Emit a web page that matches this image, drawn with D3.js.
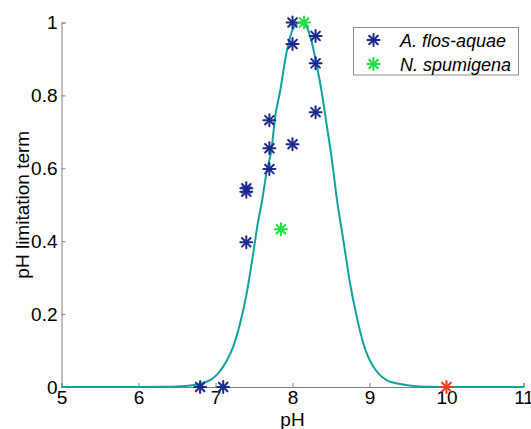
<!DOCTYPE html>
<html>
<head>
<meta charset="utf-8">
<script src="https://cdn.jsdelivr.net/npm/d3@7"></script>
<style>
  html, body { margin: 0; padding: 0; background: #fff; }
  svg { display: block; font-family: "Liberation Sans", Arial, sans-serif; }
</style>
</head>
<body>
<svg id="chart" width="531" height="429"></svg>
<script>
// ---- data ----
const xTicks = [5, 6, 7, 8, 9, 10, 11];
const yTicks = [0, 0.2, 0.4, 0.6, 0.8, 1];
const yTickLabels = ["0", "0.2", "0.4", "0.6", "0.8", "1"];

// model curve
const curvePH  = [5.0, 6.0, 6.3, 6.5, 6.67, 6.8, 6.93, 7.02, 7.10, 7.17, 7.23, 7.32, 7.405, 7.49, 7.556, 7.60, 7.665, 7.73, 7.773, 7.838, 7.925, 8.01, 8.097, 8.184, 8.249, 8.314, 8.379, 8.444, 8.509, 8.574, 8.66, 8.747, 8.834, 8.919, 8.98, 9.049, 9.13, 9.223, 9.396, 9.6, 9.8, 10.0, 11.0];
const curveVal = [0.0, 0.0, 0.0005, 0.0015, 0.004, 0.009, 0.019, 0.034, 0.056, 0.082, 0.111, 0.175, 0.257, 0.367, 0.458, 0.505, 0.591, 0.656, 0.738, 0.81, 0.92, 0.984, 1.0, 0.988, 0.947, 0.883, 0.81, 0.719, 0.628, 0.519, 0.403, 0.285, 0.193, 0.12, 0.084, 0.056, 0.034, 0.019, 0.008, 0.002, 0.0005, 0.0, 0.0];

// A. flos-aquae observations
const afPH  = [6.8, 7.1, 7.4, 7.4, 7.4, 7.7, 7.7, 7.7, 8.0, 8.0, 8.0, 8.3, 8.3, 8.3];
const afVal = [0.0, 0.0, 0.397, 0.536, 0.545, 0.598, 0.655, 0.732, 0.666, 0.941, 1.0, 0.754, 0.888, 0.963];

// N. spumigena observations
const nsPH  = [7.85, 8.15];
const nsVal = [0.433, 1.0];

// extra point (not in legend)
const otherPH  = [10.0];
const otherVal = [0.0];

const legendLabels = ["A. flos-aquae", "N. spumigena"];

// ---- drawing ----
const svg = d3.select("#chart");
const x = d3.scaleLinear().domain([5, 11]).range([61.5, 523.5]);
const y = d3.scaleLinear().domain([0, 1]).range([387, 22.5]);

const axisColor = "#808080";
const blue = "#1b2a8c";
const green = "#1fe040";
const red = "#e8401a";
const teal = "#0fa0a0";
const fs = "19px";

// axes
const xAxis = svg.append("g").attr("transform", "translate(0,387)")
  .call(d3.axisBottom(x).tickValues(xTicks).tickSize(-4).tickPadding(3).tickFormat(d3.format("d")));
const yAxis = svg.append("g").attr("transform", "translate(61.5,0)")
  .call(d3.axisLeft(y).tickValues(yTicks).tickSize(-4).tickPadding(4).tickFormat((d, i) => yTickLabels[i]));

[xAxis, yAxis].forEach(g => {
  g.select(".domain").attr("stroke", axisColor).attr("stroke-width", 1);
  g.selectAll(".tick line").attr("stroke", axisColor);
  g.selectAll(".tick text").attr("fill", "#000").style("font-size", fs)
    .style("font-family", "'Liberation Sans', Arial, sans-serif");
});
xAxis.selectAll(".tick text").attr("dy", "0.75em");

// axis labels
svg.append("text").attr("x", x(8)).attr("y", 425.5).attr("text-anchor", "middle")
  .style("font-size", fs).text("pH");
svg.append("text").attr("transform", `translate(29,${(22.5 + 387) / 2}) rotate(-90)`)
  .attr("text-anchor", "middle").style("font-size", fs).text("pH limitation term");

// curve
const curveData = curvePH.map((p, i) => [p, curveVal[i]]);
svg.append("path").datum(curveData)
  .attr("fill", "none").attr("stroke", teal).attr("stroke-width", 2)
  .attr("d", d3.line().x(d => x(d[0])).y(d => y(d[1])).curve(d3.curveMonotoneX));

// asterisk marker
function star(g, cx, cy, color) {
  const r = 6, rd = r * 0.72;
  const p = g.append("g").attr("transform", `translate(${cx},${cy})`)
    .attr("stroke", color).attr("stroke-width", 2).attr("stroke-linecap", "round");
  p.append("line").attr("x1", -r).attr("x2", r).attr("y1", 0).attr("y2", 0);
  p.append("line").attr("x1", 0).attr("x2", 0).attr("y1", -r).attr("y2", r);
  p.append("line").attr("x1", -rd).attr("x2", rd).attr("y1", -rd).attr("y2", rd);
  p.append("line").attr("x1", -rd).attr("x2", rd).attr("y1", rd).attr("y2", -rd);
}

const marks = svg.append("g");
afPH.forEach((p, i) => star(marks, x(p), y(afVal[i]), blue));
nsPH.forEach((p, i) => star(marks, x(p), y(nsVal[i]), green));
otherPH.forEach((p, i) => star(marks, x(p), y(otherVal[i]), red));

// legend
const lg = svg.append("g");
lg.append("rect").attr("x", 353.5).attr("y", 27.5).attr("width", 165).attr("height", 47.5)
  .attr("fill", "#fff").attr("stroke", "#8c8c8c").attr("stroke-width", 1);
const lgColors = [blue, green];
legendLabels.forEach((t, i) => {
  const yy = 40 + i * 24;
  star(lg, 373.5, yy, lgColors[i]);
  lg.append("text").attr("x", 400).attr("y", yy + 6.5).style("font-size", "18px")
    .style("font-style", "italic").text(t);
});
</script>
</body>
</html>
